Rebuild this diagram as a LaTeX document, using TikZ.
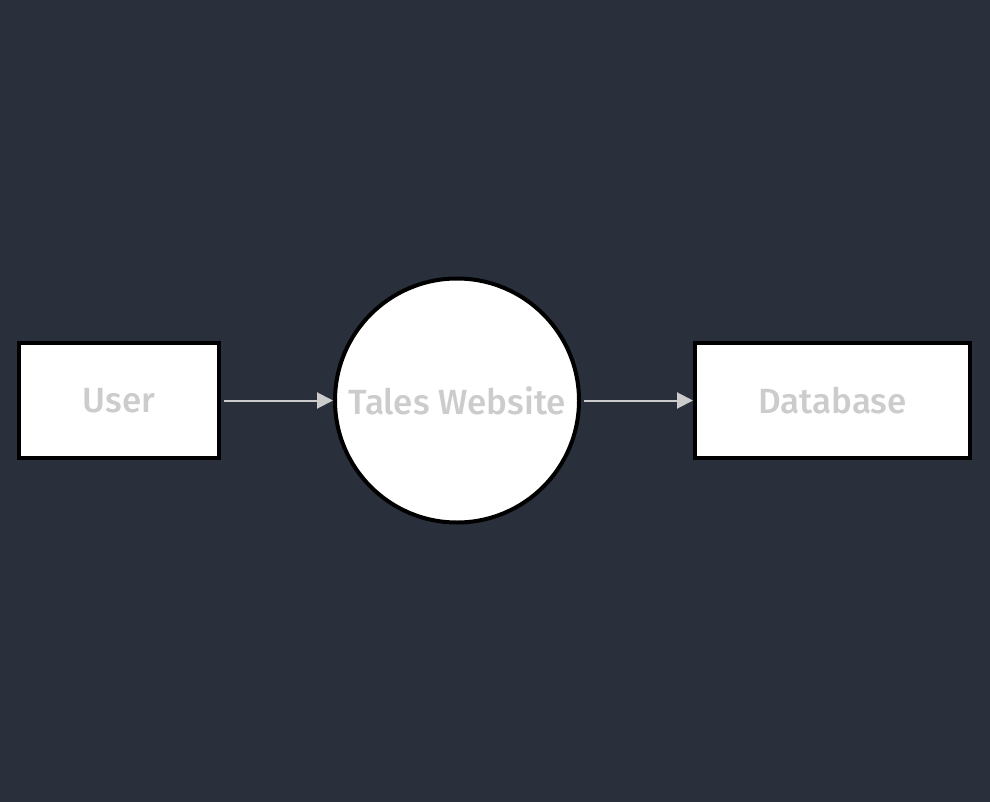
\documentclass[tikz,border=0pt]{standalone}
\usepackage{fontspec}
\setmainfont{Fira Sans}[UprightFont=* Medium]
\usetikzlibrary{positioning,arrows.meta}
\definecolor{bgdark}{HTML}{292F3B}
\definecolor{txtgrey}{HTML}{CCCCCC}

\begin{document}
\begin{tikzpicture}[x=1pt,y=-1pt,node distance=0pt and 112pt]

\tikzset{entity/.style={draw=black,fill=white,line width=4pt,minimum width=200pt,minimum height=115pt,inner sep=0pt,text=txtgrey,font=\fontsize{35}{42}\selectfont},
process/.style={entity,shape=circle,minimum size=244pt},
flow/.style={draw=txtgrey,line width=2pt,shorten <=3pt,-{Triangle[length=16pt,width=16pt]}}}

% Background
\fill[bgdark] (0,0) rectangle (990,802);
\useasboundingbox (0,0) rectangle (990,802);

% nodes
\node (user) [entity] at (119,400.5) {User};
\node (site) [right=of user,process] {Tales Website};
\node (db) [right=of site,entity,minimum width=275pt] {Database};

% Edges
\draw[flow] (user) -- (site); \draw[flow] (site) -- (db);

\end{tikzpicture}
\end{document}
